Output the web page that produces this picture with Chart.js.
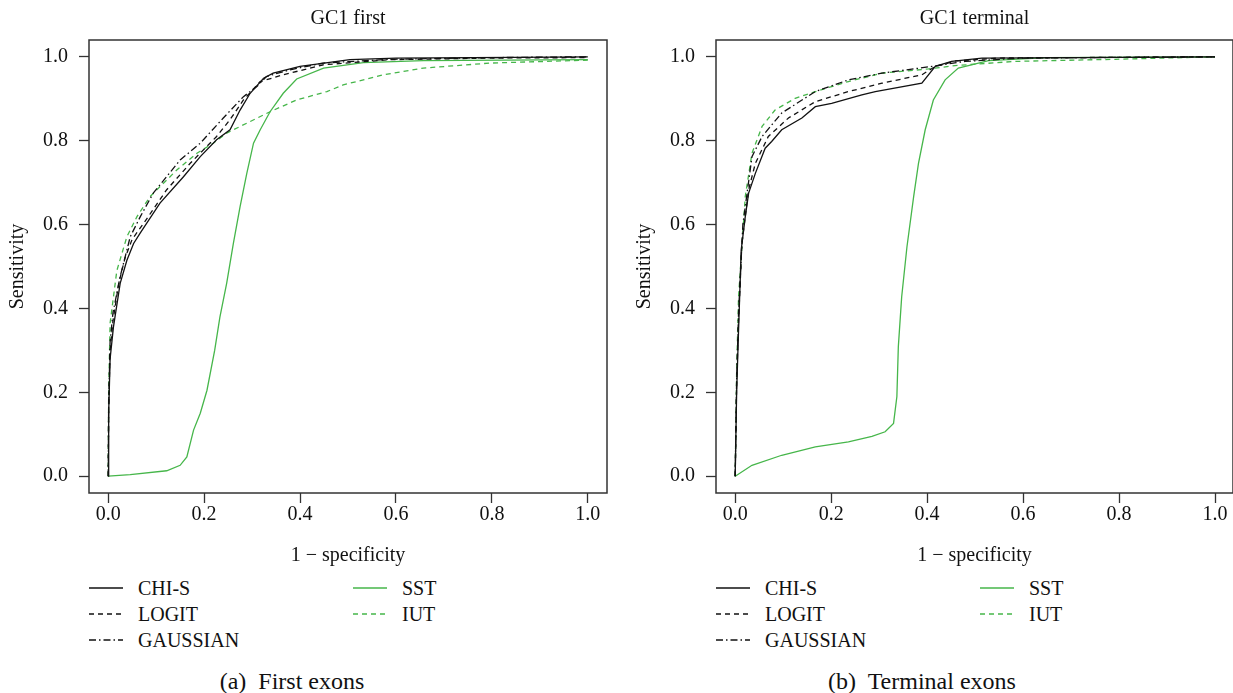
<!DOCTYPE html>
<html lang="en">
<head>
    <meta charset="UTF-8">
    <title>ROC curves - GC1</title>
    <script src="https://cdn.jsdelivr.net/npm/chart.js"></script>
    <style>
        html, body {
            margin: 0;
            padding: 0;
            background: #fff;
            overflow: hidden;
        }
        body {
            position: relative;
            width: 1233px;
            height: 693px;
            font-family: "Liberation Serif", "Times New Roman", serif;
            color: #111;
        }
        .panel {
            position: absolute;
            top: 0;
        }
        .legend-item {
            position: absolute;
            font-size: 20px;
            line-height: 24px;
            display: flex;
            align-items: center;
        }
        .legend-item svg {
            margin-right: 15px;
        }
        .caption {
            position: absolute;
            top: 667px;
            font-size: 24px;
            line-height: 28px;
            transform: translateX(-50%);
            white-space: pre;
        }
    </style>
</head>
<body>

<div class="panel" style="left:0; width:612px; height:570px;">
    <canvas id="firstChart"></canvas>
</div>
<div class="panel" style="left:627px; width:606px; height:570px;">
    <canvas id="termChart"></canvas>
</div>

<div id="legends"></div>
<div class="caption" style="left:292px;">(a)  First exons</div>
<div class="caption" style="left:922px;">(b)  Terminal exons</div>

<script>
    // series names
    const seriesNames = ['CHI-S', 'LOGIT', 'GAUSSIAN', 'SST', 'IUT'];
    const tickValues = [0, 0.2, 0.4, 0.6, 0.8, 1.0];

    // GC1 first exons: [1 - specificity, sensitivity]
    const firstChiS = [[0,0],[0.001,0.15],[0.004,0.28],[0.011,0.356],[0.025,0.46],[0.039,0.515],[0.053,0.555],[0.067,0.58],[0.108,0.651],[0.157,0.714],[0.192,0.762],[0.226,0.802],[0.254,0.826],[0.275,0.873],[0.296,0.913],[0.324,0.949],[0.344,0.961],[0.4,0.977],[0.504,0.993],[0.6,0.997],[1,1]];
    const firstLogit = [[0,0],[0.001,0.16],[0.004,0.3],[0.01,0.37],[0.022,0.46],[0.035,0.52],[0.05,0.565],[0.074,0.603],[0.122,0.683],[0.171,0.746],[0.226,0.81],[0.254,0.85],[0.282,0.897],[0.317,0.941],[0.365,0.957],[0.449,0.981],[0.5875,0.993],[0.8,0.997],[1,0.998]];
    const firstGaussian = [[0,0],[0.001,0.17],[0.004,0.32],[0.01,0.39],[0.025,0.476],[0.046,0.571],[0.067,0.619],[0.094,0.675],[0.15,0.754],[0.192,0.794],[0.24,0.854],[0.282,0.905],[0.31,0.929],[0.33,0.953],[0.379,0.969],[0.448,0.985],[0.5875,0.994],[0.8,0.998],[1,1]];
    const firstSst = [[0,0],[0.046,0.004],[0.122,0.013],[0.15,0.026],[0.164,0.046],[0.178,0.11],[0.192,0.15],[0.206,0.205],[0.222,0.3],[0.233,0.38],[0.247,0.46],[0.261,0.555],[0.275,0.643],[0.289,0.722],[0.303,0.794],[0.317,0.826],[0.3375,0.869],[0.365,0.913],[0.393,0.947],[0.449,0.973],[0.532,0.986],[0.657,0.991],[1,0.993]];
    const firstIut = [[0,0],[0.001,0.2],[0.004,0.365],[0.018,0.49],[0.039,0.571],[0.06,0.619],[0.0875,0.667],[0.143,0.73],[0.185,0.77],[0.219,0.794],[0.247,0.818],[0.3375,0.869],[0.393,0.897],[0.456,0.917],[0.49,0.933],[0.574,0.957],[0.657,0.973],[0.796,0.985],[1,0.992]];

    // GC1 terminal exons
    const termChiS = [[0,0],[0.003,0.2],[0.007,0.348],[0.0125,0.539],[0.021,0.619],[0.028,0.675],[0.042,0.722],[0.0625,0.782],[0.076,0.798],[0.097,0.826],[0.139,0.854],[0.167,0.881],[0.201,0.889],[0.264,0.909],[0.292,0.917],[0.389,0.937],[0.417,0.977],[0.451,0.989],[0.514,0.997],[1,1]];
    const termLogit = [[0,0],[0.003,0.22],[0.007,0.37],[0.014,0.555],[0.028,0.683],[0.042,0.746],[0.069,0.81],[0.111,0.854],[0.167,0.893],[0.236,0.917],[0.306,0.937],[0.389,0.957],[0.417,0.977],[0.46,0.99],[0.55,0.997],[1,1]];
    const termGaussian = [[0,0],[0.003,0.23],[0.007,0.39],[0.016,0.6],[0.035,0.762],[0.056,0.81],[0.097,0.866],[0.167,0.917],[0.236,0.945],[0.306,0.961],[0.41,0.977],[0.479,0.989],[0.6,0.997],[1,1]];
    const termSst = [[0,0],[0.035,0.026],[0.097,0.05],[0.167,0.07],[0.236,0.082],[0.285,0.095],[0.3125,0.106],[0.33,0.126],[0.337,0.19],[0.34,0.309],[0.347,0.428],[0.358,0.547],[0.372,0.667],[0.382,0.746],[0.396,0.826],[0.413,0.897],[0.4375,0.945],[0.465,0.973],[0.528,0.991],[0.65,0.998],[1,1]];
    const termIut = [[0,0],[0.003,0.25],[0.007,0.428],[0.021,0.667],[0.035,0.77],[0.056,0.834],[0.083,0.873],[0.125,0.901],[0.167,0.917],[0.236,0.941],[0.306,0.961],[0.403,0.971],[0.458,0.979],[0.583,0.989],[0.792,0.994],[1,1]];

    const BLACK = '#111';
    const GREEN = '#46b64a';
    const AXIS = '#333';
    const FONT = '"Liberation Serif", "Times New Roman", serif';

    // line style for each series, same order as seriesNames
    const styles = [
        { color: BLACK, dash: [] },
        { color: BLACK, dash: [5, 4] },
        { color: BLACK, dash: [7, 3, 1.5, 3] },
        { color: GREEN, dash: [] },
        { color: GREEN, dash: [5, 4] }
    ];

    // draws the full frame round the plot area
    const boxPlugin = {
        id: 'box',
        afterDraw(chart) {
            const { ctx, chartArea: a } = chart;
            ctx.save();
            ctx.strokeStyle = AXIS;
            ctx.lineWidth = 1.5;
            ctx.strokeRect(a.left, a.top, a.right - a.left, a.bottom - a.top);
            ctx.restore();
        }
    };

    function makeChart(id, title, series, xMax, padRight) {
        const datasets = series.map((pts, i) => ({
            label: seriesNames[i],
            data: pts.map(p => ({ x: p[0], y: p[1] })),
            borderColor: styles[i].color,
            borderDash: styles[i].dash,
            borderWidth: 1.3,
            pointRadius: 0,
            tension: 0,
            fill: false
        }));

        const fixTicks = scale => { scale.ticks = tickValues.map(v => ({ value: v })); };
        const tickFmt = v => v.toFixed(1);

        return new Chart(document.getElementById(id), {
            type: 'line',
            data: { datasets },
            plugins: [boxPlugin],
            options: {
                responsive: true,
                maintainAspectRatio: false,
                animation: false,
                layout: { padding: { top: 0, right: padRight, bottom: 0, left: 0 } },
                plugins: {
                    legend: { display: false },
                    tooltip: { enabled: false },
                    title: {
                        display: true,
                        text: title,
                        fullSize: false,
                        color: BLACK,
                        font: { family: FONT, size: 20, weight: 'normal', lineHeight: 1.2 },
                        padding: { top: 7, bottom: 9 }
                    }
                },
                scales: {
                    x: {
                        type: 'linear',
                        min: -0.04,
                        max: xMax,
                        afterBuildTicks: fixTicks,
                        afterFit: s => { s.height = 77; },
                        grid: { drawOnChartArea: false, drawTicks: true, tickLength: 10, color: AXIS, tickWidth: 1.3 },
                        border: { display: false },
                        ticks: { color: BLACK, padding: 0, maxRotation: 0, font: { family: FONT, size: 20 }, callback: tickFmt },
                        title: { display: true, text: '1 \u2212 specificity', color: BLACK, font: { family: FONT, size: 20 }, padding: { top: 0, bottom: 2 } }
                    },
                    y: {
                        type: 'linear',
                        min: -0.04,
                        max: 1.04,
                        afterBuildTicks: fixTicks,
                        afterFit: s => { s.width = 89; },
                        grid: { drawOnChartArea: false, drawTicks: true, tickLength: 10, color: AXIS, tickWidth: 1.3 },
                        border: { display: false },
                        ticks: { color: BLACK, padding: 11, font: { family: FONT, size: 20 }, callback: tickFmt },
                        title: { display: true, text: 'Sensitivity', color: BLACK, font: { family: FONT, size: 20 }, padding: { top: 6, bottom: 0 } }
                    }
                }
            }
        });
    }

    makeChart('firstChart', 'GC1 first', [firstChiS, firstLogit, firstGaussian, firstSst, firstIut], 1.04, 5);
    makeChart('termChart', 'GC1 terminal', [termChiS, termLogit, termGaussian, termSst, termIut], 1.0375, 0);

    // legends under each panel, 3 rows in first column, 2 in the second
    function sample(style) {
        const dash = style.dash.length ? ` stroke-dasharray="${style.dash.join(' ')}"` : '';
        return `<svg width="34" height="10"><line x1="0" y1="5" x2="34" y2="5" stroke="${style.color}" stroke-width="1.5"${dash}/></svg>`;
    }
    const legendHost = document.getElementById('legends');
    [89, 716].forEach(left => {
        seriesNames.forEach((name, i) => {
            const col = i < 3 ? 0 : 1;
            const row = i < 3 ? i : i - 3;
            const div = document.createElement('div');
            div.className = 'legend-item';
            div.style.left = (left + col * 264) + 'px';
            div.style.top = (576 + row * 26) + 'px';
            div.innerHTML = sample(styles[i]) + '<span>' + name + '</span>';
            legendHost.appendChild(div);
        });
    });
</script>
</body>
</html>
